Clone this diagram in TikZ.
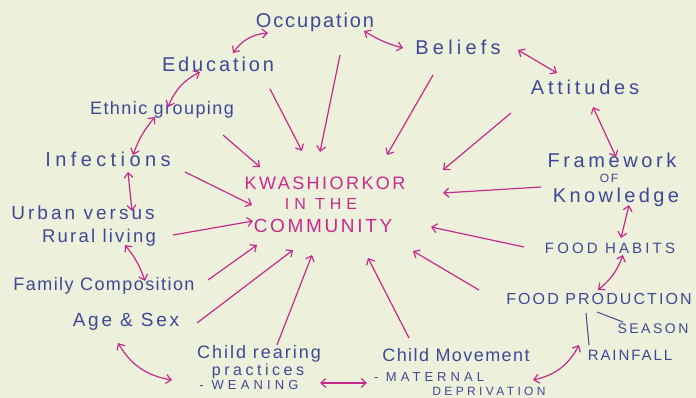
\documentclass[tikz,border=0pt]{standalone}
\usepackage{fontspec}
\setmainfont{Liberation Sans}
\usetikzlibrary{arrows.meta,calc}
\definecolor{paper}{HTML}{EDF0DA}
\definecolor{ink}{HTML}{3F4896}
\definecolor{pinkink}{HTML}{C72A8E}
\begin{document}
\begin{tikzpicture}[x=1pt,y=-1pt,
  lbl/.style n args={3}{inner sep=0pt, anchor=base, text=#3,
    font={\fontsize{#1pt}{#1pt}\selectfont\addfontfeature{LetterSpace=#2}}},
  bluetxt/.style 2 args={lbl={#1}{#2}{ink}},
  pinktxt/.style 2 args={lbl={#1}{#2}{pinkink}},
  arr/.style={draw=pinkink, line width=1.2pt, -{Straight Barb[length=5pt,width=9pt]}},
  darr/.style={draw=pinkink, line width=1.2pt, {Straight Barb[length=5pt,width=9pt]}-{Straight Barb[length=5pt,width=9pt]}},
  tieline/.style={draw=ink, line width=1pt},
  vleft/.style={bend left=#1},
  vright/.style={bend right=#1}]
\fill[paper] (0,0) rectangle (696,398);
\useasboundingbox (0,0) rectangle (696,398);

% labels
\node[bluetxt={20}{9.5}] (occ) at (315,28) {Occupation};
\node[bluetxt={20}{21}] (bel) at (458,55) {Beliefs};
\node[bluetxt={20}{19}] (att) at (585,95) {Attitudes};
\node[bluetxt={20}{18}] (fw) at (612,168) {Framework};
\node[bluetxt={12}{14}] (fw2) at (609,183) {OF};
\node[bluetxt={20}{17}] (fw3) at (616,203) {Knowledge};
\node[bluetxt={15}{21}] (fh) at (610,253) {FOOD HABITS};
\node[bluetxt={16}{13}] (fp) at (599,304) {FOOD PRODUCTION};
\node[bluetxt={14}{18}] (sea) at (653,333) {SEASON};
\node[bluetxt={15}{13}] (rain) at (630,360) {RAINFALL};
\node[bluetxt={18}{8}] (cm) at (456,361) {Child Movement};
\node[bluetxt={13}{31}] (cm2) at (429,381) {- MATERNAL};
\node[bluetxt={12}{28}] (cm3) at (489,395) {DEPRIVATION};
\node[bluetxt={18}{11}] (cr) at (259,358) {Child rearing};
\node[bluetxt={16}{22}] (cr2) at (258,375) {practices};
\node[bluetxt={13}{32}] (cr3) at (249,389) {- WEANING};
\node[bluetxt={19}{14.6}] (age) at (126,326) {Age \& Sex};
\node[bluetxt={18}{8}] (fam) at (104,290) {Family Composition};
\node[bluetxt={19}{16}] (ur) at (83,220) {Urban versus};
\node[bluetxt={18.5}{12}] (ur2) at (99,243) {Rural living};
\node[bluetxt={20}{22}] (inf) at (108,167) {Infections};
\node[bluetxt={18}{8}] (eth) at (162,115) {Ethnic grouping};
\node[bluetxt={20}{14.4}] (edu) at (218,72) {Education};
\node[pinktxt={18}{13.6}] (kw1) at (325,190) {KWASHIORKOR};
\node[pinktxt={16}{31}] (kw2) at (321,210) {IN THE};
\node[pinktxt={19}{14}] (kw3) at (323,233) {COMMUNITY};

% arrows into the centre
\draw[arr] ($(edu.base)+(52,17)$) -- ($(kw2.base)+(-19,-59)$);
\draw[arr] ($(occ.base)+(25,27)$) -- ($(kw2.base)+(-1,-58)$);
\draw[arr] ($(bel.base)+(-25,20)$) -- ($(kw2.base)+(66,-55)$);
\draw[arr] ($(att.base)+(-74,18)$) -- ($(kw2.base)+(122,-40)$);
\draw[arr] ($(fw2.base)+(-68,4)$) -- ($(kw2.base)+(122,-17)$);
\draw[arr] ($(fh.base)+(-86,-6)$) -- ($(kw2.base)+(110,17)$);
\draw[arr] ($(fp.base)+(-120,-14)$) -- ($(kw2.base)+(92,41)$);
\draw[arr] ($(cm.base)+(-47,-23)$) -- ($(kw2.base)+(47,48)$);
\draw[arr] ($(cr.base)+(18,-13)$) -- ($(kw2.base)+(-9,45)$);
\draw[arr] ($(age.base)+(71,-3)$) -- ($(kw2.base)+(-28,40)$);
\draw[arr] ($(fam.base)+(104,-10)$) -- ($(kw2.base)+(-64,35)$);
\draw[arr] ($(ur2.base)+(74,-8)$) -- ($(kw2.base)+(-68,11)$);
\draw[arr] ($(inf.base)+(77,5)$) -- ($(kw2.base)+(-69,-5)$);
\draw[arr] ($(eth.base)+(61,20)$) -- ($(kw2.base)+(-61,-43)$);

% double arrows around the ring
\draw[darr] ($(edu.base)+(15,-19)$) to[vleft=25] ($(occ.base)+(-47,5)$);
\draw[darr] ($(occ.base)+(49,3)$) to[vright=8] ($(bel.base)+(-55,-7)$);
\draw[darr] ($(bel.base)+(60,-5)$) -- ($(att.base)+(-28,-22)$);
\draw[darr] ($(att.base)+(8,12)$) -- ($(fw.base)+(4,-11)$);
\draw[darr] ($(fw3.base)+(13,2)$) -- ($(fh.base)+(11,-15)$);
\draw[darr] ($(fh.base)+(13,2)$) to[vleft=15] ($(fp.base)+(-1,-14)$);
\draw[darr] ($(rain.base)+(-51,-15)$) to[vleft=25] ($(cm3.base)+(44,-15)$);
\draw[darr] ($(cr3.base)+(71,-6)$) -- ($(cm2.base)+(-62,2)$);
\draw[darr] ($(age.base)+(-8,17)$) to[vright=25] ($(cr3.base)+(-77,-9)$);
\draw[darr] ($(ur2.base)+(26,2)$) to[vleft=10] ($(fam.base)+(41,-9)$);
\draw[darr] ($(inf.base)+(20,5)$) -- ($(ur.base)+(49,-9)$);
\draw[darr] ($(inf.base)+(25,-12)$) to[vleft=10] ($(eth.base)+(-7,2)$);
\draw[darr] ($(eth.base)+(6,-8)$) to[vleft=20] ($(edu.base)+(-18,0)$);

% plain ties
\draw[tieline] ($(fp.base)+(-13,9)$) -- ($(rain.base)+(-41,-15)$);
\draw[tieline] ($(fp.base)+(-2,8)$) -- ($(sea.base)+(-30,-11)$);
\end{tikzpicture}
\end{document}
